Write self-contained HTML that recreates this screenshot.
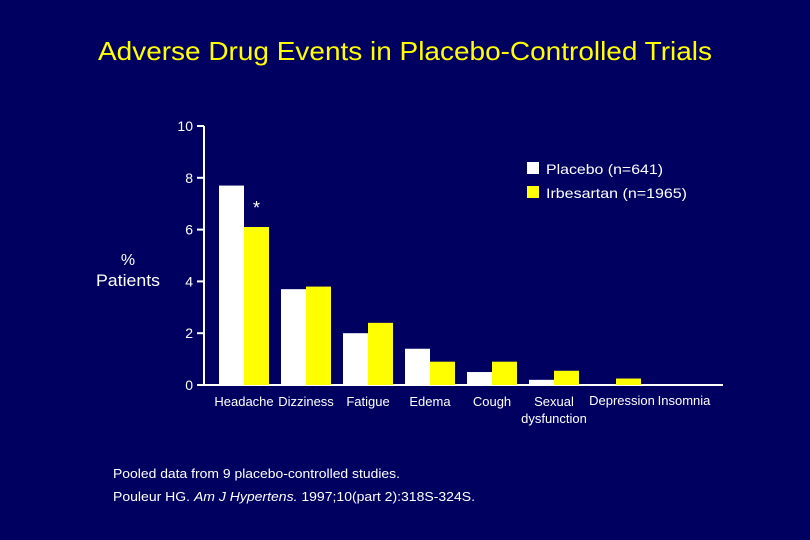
<!DOCTYPE html>
<html><head><meta charset="utf-8"><style>
html,body{margin:0;padding:0;background:#000060;}
svg{display:block;font-family:"Liberation Sans",sans-serif;}
</style></head><body>
<svg id="chart" width="810" height="540" viewBox="0 0 810 540">
<rect width="810" height="540" fill="#000060"/>
<text x="98" y="60" fill="#ffff00" font-size="26" textLength="614" lengthAdjust="spacingAndGlyphs">Adverse Drug Events in Placebo-Controlled Trials</text>
<text x="128" y="265" fill="#fff" font-size="16" text-anchor="middle">%</text>
<text x="96" y="286" fill="#fff" font-size="17" textLength="64" lengthAdjust="spacingAndGlyphs">Patients</text>
<g id="axes"></g>
<g id="bars"></g>
<text x="253" y="214" fill="#fff" font-size="18">*</text>
<rect x="527" y="162" width="12" height="12" fill="#fff"/>
<text x="546" y="174" fill="#fff" font-size="14" textLength="117" lengthAdjust="spacingAndGlyphs">Placebo (n=641)</text>
<rect x="527" y="186" width="12" height="12" fill="#ffff00"/>
<text x="546" y="198" fill="#fff" font-size="14" textLength="141" lengthAdjust="spacingAndGlyphs">Irbesartan (n=1965)</text>
<text x="113" y="478" fill="#fff" font-size="13" textLength="287" lengthAdjust="spacingAndGlyphs">Pooled data from 9 placebo-controlled studies.</text>
<text x="113" y="501" fill="#fff" font-size="13" textLength="362" lengthAdjust="spacingAndGlyphs">Pouleur HG. <tspan font-style="italic">Am J Hypertens.</tspan> 1997;10(part 2):318S-324S.</text>
</svg>
<script>
const categories=["Headache","Dizziness","Fatigue","Edema","Cough","Sexual","Depression","Insomnia"];
const placebo=[7.7,3.7,2.0,1.4,0.5,0.2,0,0];
const irbesartan=[6.1,3.8,2.4,0.9,0.9,0.55,0.25,0];
const yTicks=[0,2,4,6,8,10];
const NS="http://www.w3.org/2000/svg";
const y0=385,y1=126,yMax=10;
const y=v=>y0-(y0-y1)*v/yMax;
const x=i=>244+62*i;
const bw=25;
function mk(tag,attrs,parent){const e=document.createElementNS(NS,tag);for(const k in attrs)e.setAttribute(k,attrs[k]);parent.appendChild(e);return e;}
const ax=document.getElementById('axes'),bg=document.getElementById('bars');
let l=mk('line',{x1:204,y1:y1,x2:204,y2:y0,stroke:'#fff','stroke-width':2},ax);


l=mk('line',{x1:197,y1:y0,x2:723,y2:y0,stroke:'#fff','stroke-width':2},ax);


yTicks.forEach(t=>{
  const tk=mk('line',{x1:197,y1:y(t),x2:204,y2:y(t),stroke:'#fff','stroke-width':2},ax);
  
  
  const tx=mk('text',{x:193,y:y(t)+5,fill:'#fff','font-size':14,'text-anchor':'end'},ax);
  tx.textContent=t;
  
  
});
categories.forEach((c,i)=>{
  if(placebo[i]>0){
    const r=mk('rect',{x:x(i)-bw,y:y(placebo[i]),width:bw,height:y0-y(placebo[i]),fill:'#fff'},bg);
    
    
  }
  if(irbesartan[i]>0){
    const r=mk('rect',{x:x(i),y:y(irbesartan[i]),width:bw,height:y0-y(irbesartan[i]),fill:'#ffff00'},bg);
    
    
  }
  const tx=mk('text',{x:x(i)+(i>=6?6:0),y:i>=6?405:406,fill:'#fff','font-size':13,'text-anchor':'middle'},ax);
  tx.textContent=c;
  
  
  if(c==="Sexual"){
    const t2=mk('text',{x:x(i),y:423,fill:'#fff','font-size':13,'text-anchor':'middle'},ax);
    t2.textContent="dysfunction";
    
    
  }
});
</script>
</body></html>
